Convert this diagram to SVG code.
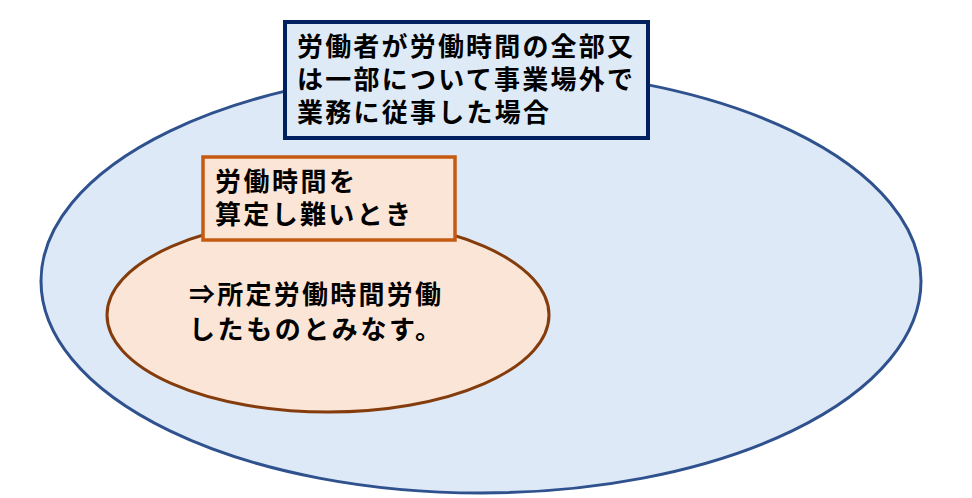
<svg xmlns="http://www.w3.org/2000/svg" width="972" height="498" viewBox="0 0 972 498">
<style>
text{font-family:"Noto Sans CJK JP","Noto Sans CJK SC",sans-serif;font-weight:bold;font-size:26px;fill:#000}
</style>
<rect width="972" height="498" fill="#fff"/>
<g id="outer"><ellipse cx="481" cy="281" rx="440" ry="212" fill="#DDE9F6" stroke="#2F528F" stroke-width="3"/></g>
<g id="outer-label">
<rect x="285" y="22" width="363" height="116" fill="#DEEBF7" stroke="#002060" stroke-width="4"/>
<text x="297" y="56" textLength="336" lengthAdjust="spacing">労働者が労働時間の全部又</text>
<text x="297" y="89" textLength="336" lengthAdjust="spacing">は一部について事業場外で</text>
<text x="297" y="122" textLength="252" lengthAdjust="spacing">業務に従事した場合</text>
</g>
<g id="inner"><ellipse cx="328" cy="315" rx="221" ry="97" fill="#FBE5D6" stroke="#843C0C" stroke-width="3"/>
<text x="189" y="304" textLength="252" lengthAdjust="spacing">⇒所定労働時間労働</text>
<text x="189" y="339" textLength="252" lengthAdjust="spacing">したものとみなす。</text>
</g>
<g id="inner-label">
<rect x="203" y="157" width="252" height="83" fill="#FBE5D6" stroke="#C55A11" stroke-width="3.5"/>
<text x="215" y="191" textLength="140" lengthAdjust="spacing">労働時間を</text>
<text x="215" y="224" textLength="196" lengthAdjust="spacing">算定し難いとき</text>
</g>
<g id="connectors"/>
</svg>
